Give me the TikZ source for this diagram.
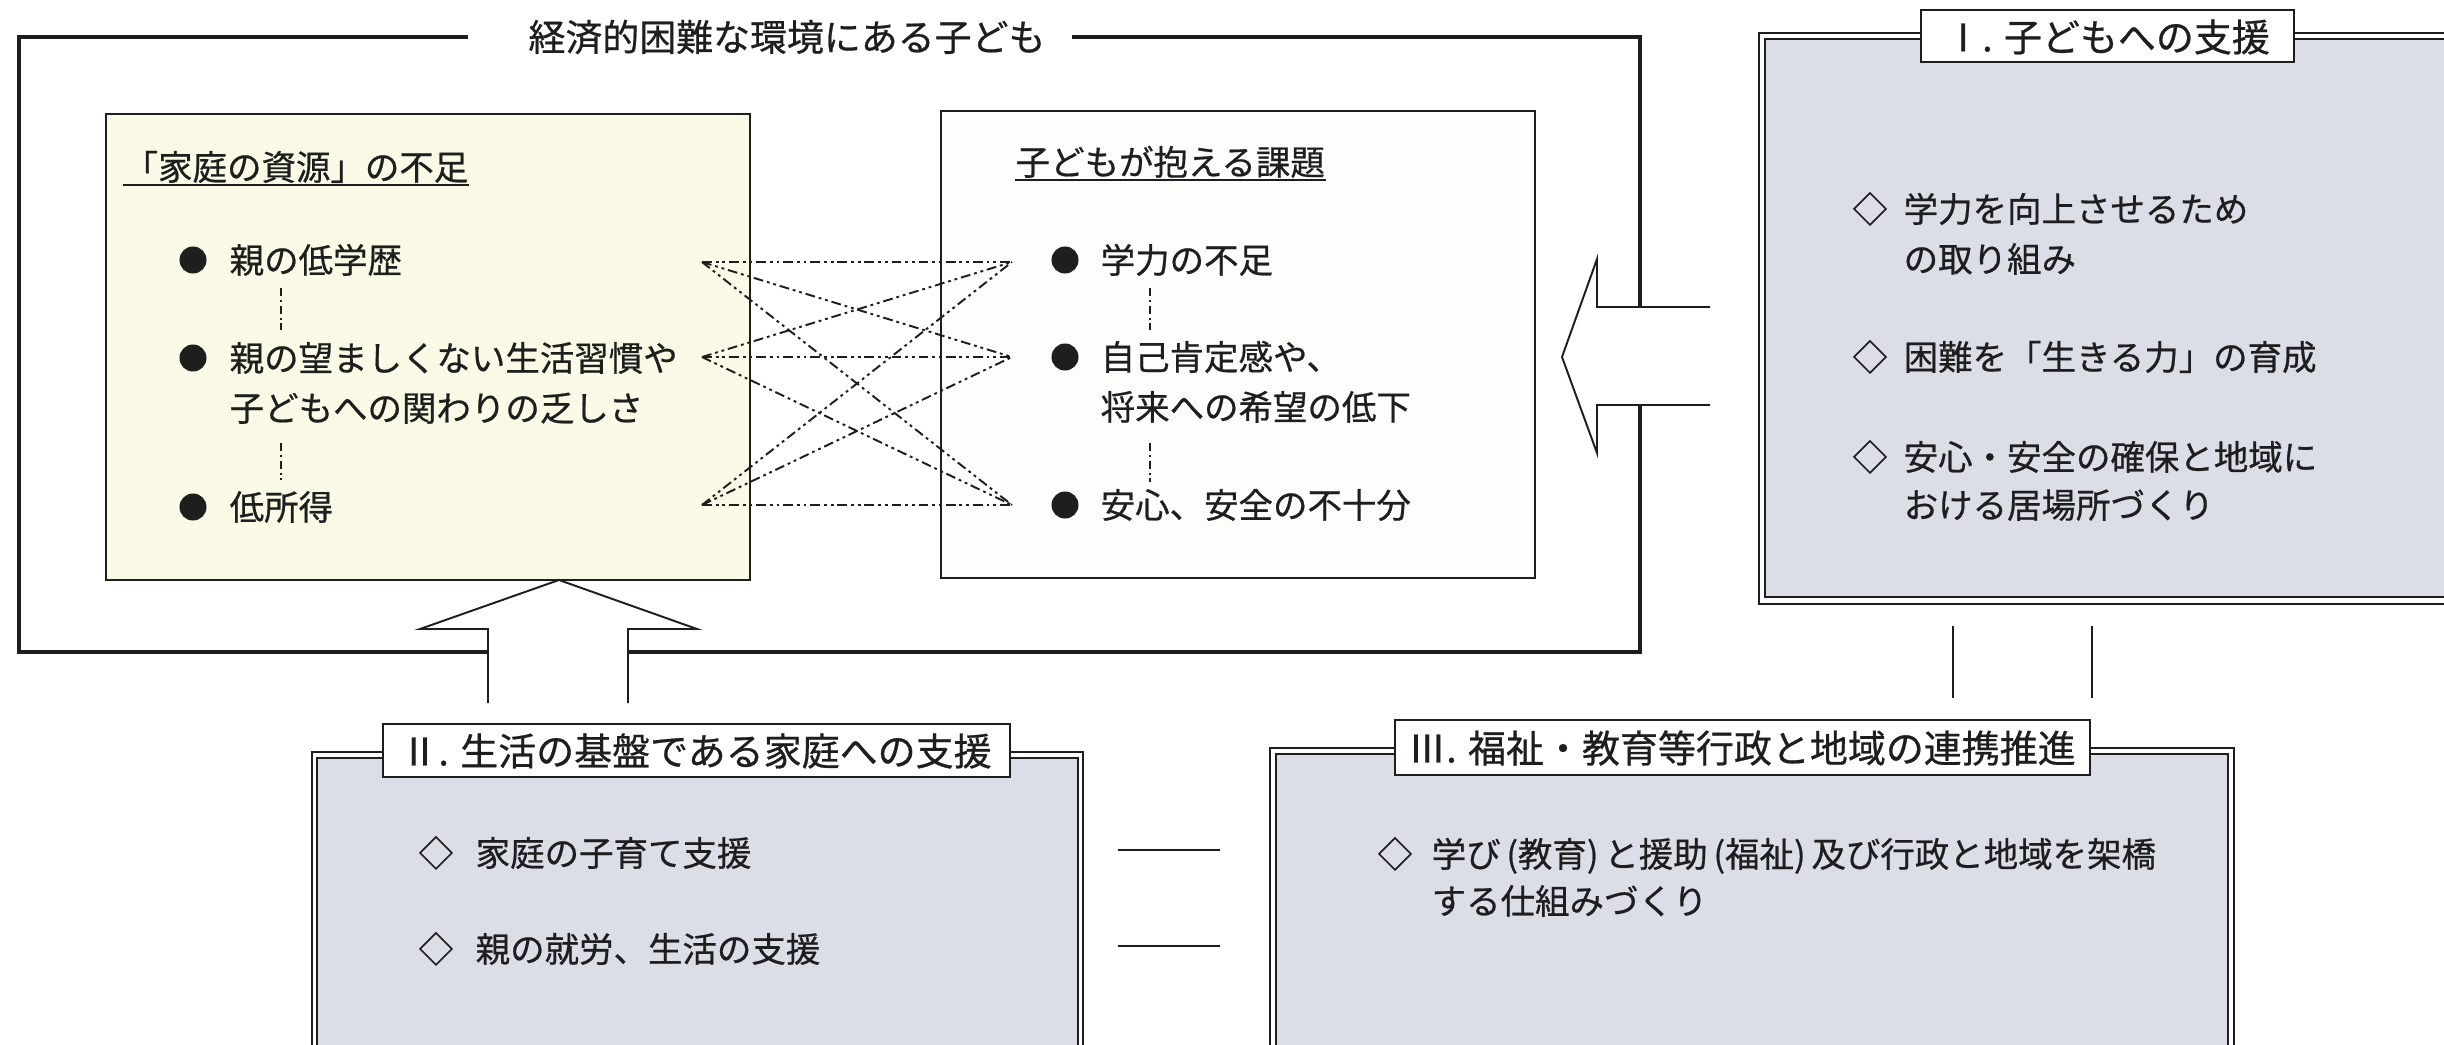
\documentclass[tikz,border=0pt]{standalone}
\usepackage{fontspec}
\setmainfont{Noto Sans CJK JP}[FakeBold=0.6]
\definecolor{cream}{RGB}{250,250,230}
\definecolor{paper}{RGB}{253,253,251}
\definecolor{halftone}{RGB}{219,221,231}
\definecolor{ink}{RGB}{30,30,30}
\begin{document}
\begin{tikzpicture}[x=0.01cm,y=-0.01cm,
  body/.style={font=\fontsize{9.8pt}{12pt}\selectfont, inner sep=0pt, anchor=west,
    text height=8.6pt, text depth=1.2pt, text=ink},
  dia/.style={font=\fontsize{9.8pt}{12pt}\selectfont, inner sep=0pt,
    text height=8.6pt, text depth=1.2pt, text=ink},
  bul/.style={circle, fill=ink, inner sep=0pt, minimum size=0.27cm},
  maintitle/.style={font=\fontsize{10.5pt}{12pt}\selectfont, inner sep=0pt, text=ink},
  tabtext/.style={font=\fontsize{10.8pt}{12pt}\selectfont, inner sep=0pt, text=ink},
  frame/.style={draw=ink, line width=1.2pt},
  thin/.style={draw=ink, line width=0.55pt},
  tabline/.style={draw=ink, line width=0.7pt},
  link/.style={draw=ink, line width=0.55pt,
    dash pattern=on 2.8pt off 1.1pt on 0.8pt off 1.1pt on 0.8pt off 1.1pt},
  vlink/.style={draw=ink, line width=0.45pt,
    dash pattern=on 2.4pt off 1pt on 0.6pt off 1pt},
]
\useasboundingbox (0,0) rectangle (2444,1045);
\fill[white] (0,0) rectangle (2444,1045);

% ---------- outer frame ----------
\draw[frame] (468,37) -- (19,37) -- (19,652) -- (1640,652) -- (1640,37) -- (1072,37);
\node[maintitle] (t0) at (787,37) {経済的困難な環境にある子ども};

% ---------- box 1 ----------
\draw[thin, fill=cream] (106,114) rectangle (750,580);
\node[body] (h1) at (123,167) {「家庭の資源」の不足};
\draw[thin] (h1.south west) -- (h1.south east);
\node[bul] (b11) at (193,260) {};
\node[body] (t11) at (229,260) {親の低学歴};
\node[bul] (b12) at (193,358) {};
\node[body] (t12a) at (229,358) {親の望ましくない生活習慣や};
\node[body] (t12b) at (229,408) {子どもへの関わりの乏しさ};
\node[bul] (b13) at (193,507) {};
\node[body] (t13) at (229,507) {低所得};
\draw[vlink] (281,288) -- (281,330);
\draw[vlink] (281,443) -- (281,480);

% ---------- box 2 ----------
\draw[thin, fill=paper] (941,111) rectangle (1535,578);
\node[body] (h2) at (1015,162) {子どもが抱える課題};
\draw[thin] (h2.south west) -- (h2.south east);
\node[bul] (b21) at (1065,260) {};
\node[body] (t21) at (1100,260) {学力の不足};
\node[bul] (b22) at (1065,357) {};
\node[body] (t22a) at (1100,357) {自己肯定感や、};
\node[body] (t22b) at (1100,407) {将来への希望の低下};
\node[bul] (b23) at (1065,505) {};
\node[body] (t23) at (1100,505) {安心、安全の不十分};
\draw[vlink] (1150,288) -- (1150,330);
\draw[vlink] (1150,443) -- (1150,482);

% ---------- cross links ----------
\coordinate (L1) at (702,262);
\coordinate (L2) at (702,357);
\coordinate (L3) at (702,505);
\coordinate (R1) at (1012,262);
\coordinate (R2) at (1012,357);
\coordinate (R3) at (1012,505);
\foreach \a in {L1,L2,L3}{
  \foreach \b in {R1,R2,R3}{
    \draw[link] (\a) -- (\b);
  }
}

% ---------- box I ----------
\draw[tabline] (1759,33) rectangle (2480,604);
\draw[thin, fill=halftone] (1765,39) rectangle (2480,597);
\draw[tabline, fill=white] (1921,10) rectangle (2294,62);
\node[tabtext] (tabI) at (2107,37) {Ⅰ. 子どもへの支援};
\node[dia] (dI1) at (1870,209) {◇};
\node[body] (tI1a) at (1903,209) {学力を向上させるため};
\node[body] (tI1b) at (1903,259) {の取り組み};
\node[dia] (dI2) at (1870,357) {◇};
\node[body] (tI2) at (1903,357) {困難を「生きる力」の育成};
\node[dia] (dI3) at (1870,457) {◇};
\node[body] (tI3a) at (1903,457) {安心・安全の確保と地域に};
\node[body] (tI3b) at (1903,505) {おける居場所づくり};
\draw[thin] (1953,626) -- (1953,698);
\draw[thin] (2092,626) -- (2092,698);

% ---------- box II ----------
\draw[tabline] (312,752) rectangle (1083,1070);
\draw[thin, fill=halftone] (317,758) rectangle (1078,1070);
\draw[tabline, fill=white] (383,724) rectangle (1010,777);
\node[tabtext] (tabII) at (696,751) {Ⅱ. 生活の基盤である家庭への支援};
\node[dia] (dII1) at (436,853) {◇};
\node[body] (tII1) at (475,853) {家庭の子育て支援};
\node[dia] (dII2) at (436,949) {◇};
\node[body] (tII2) at (475,949) {親の就労、生活の支援};

% ---------- box III ----------
\draw[tabline] (1270,748) rectangle (2234,1070);
\draw[thin, fill=halftone] (1276,754) rectangle (2228,1070);
\draw[tabline, fill=white] (1395,720) rectangle (2090,775);
\node[tabtext] (tabIII) at (1742,748) {Ⅲ. 福祉・教育等行政と地域の連携推進};
\node[dia] (dIII1) at (1395,854) {◇};
\node[body] (tIII1a) at (1431,854) {学び\,(教育)\,と援助\,(福祉)\,及び行政と地域を架橋};
\node[body] (tIII1b) at (1431,901) {する仕組みづくり};

% ---------- links between II and III ----------
\draw[thin] (1118,850) -- (1220,850);
\draw[thin] (1118,946) -- (1220,946);

% ---------- block arrows ----------
\draw[thin, fill=white] (1710,307) -- (1597,307) -- (1597,259) -- (1562,357)
  -- (1597,453) -- (1597,405) -- (1710,405);
\draw[thin, fill=white] (488,703) -- (488,629) -- (420,629) -- (559,580)
  -- (697,629) -- (628,629) -- (628,703);
\end{tikzpicture}
\end{document}
